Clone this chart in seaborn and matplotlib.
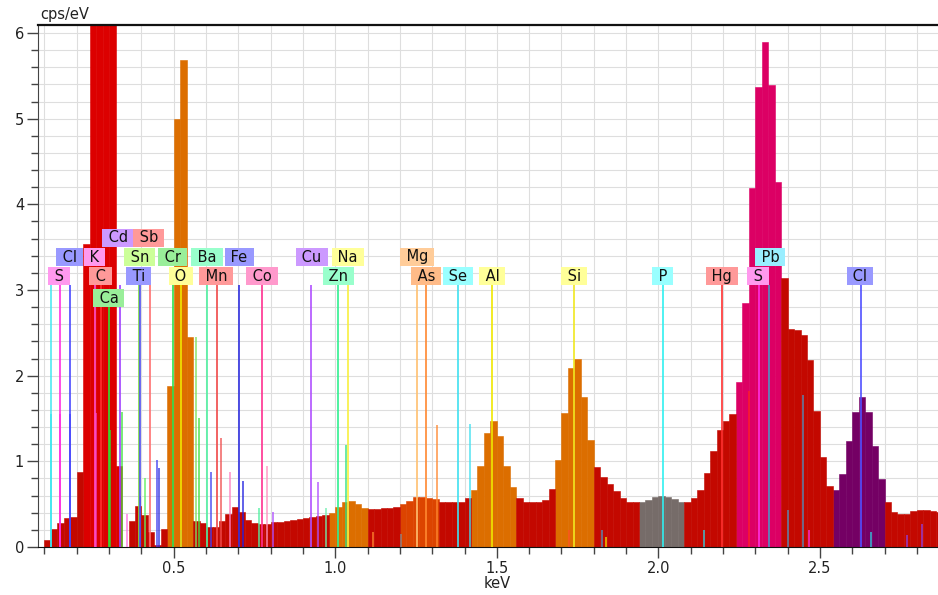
import numpy as np
import pandas as pd
import matplotlib
import matplotlib.pyplot as plt
import matplotlib.ticker as ticker
import seaborn as sns

matplotlib.use('Agg')

# EDS spectrum, 20 eV channels starting at 0.08 keV (cps/eV per channel)
bin_start = 0.08
bin_width = 0.02
cps = [0.00, 0.08, 0.21, 0.28, 0.34, 0.35, 0.88, 3.54, 6.50, 6.50,
       6.50, 6.50, 0.94, 0.00, 0.30, 0.48, 0.37, 0.17, 0.02, 0.21,
       1.88, 4.99, 5.69, 2.45, 0.30, 0.28, 0.23, 0.23, 0.30, 0.39,
       0.47, 0.41, 0.32, 0.28, 0.27, 0.27, 0.29, 0.29, 0.30, 0.31,
       0.33, 0.34, 0.35, 0.36, 0.37, 0.40, 0.47, 0.53, 0.54, 0.50,
       0.45, 0.44, 0.44, 0.45, 0.46, 0.47, 0.50, 0.54, 0.58, 0.58,
       0.57, 0.56, 0.53, 0.53, 0.53, 0.53, 0.57, 0.67, 0.94, 1.33,
       1.47, 1.30, 0.95, 0.70, 0.57, 0.52, 0.52, 0.52, 0.55, 0.68,
       1.01, 1.56, 2.09, 2.19, 1.75, 1.25, 0.93, 0.82, 0.74, 0.65,
       0.57, 0.52, 0.52, 0.52, 0.55, 0.58, 0.59, 0.58, 0.56, 0.53,
       0.53, 0.57, 0.67, 0.86, 1.12, 1.36, 1.47, 1.55, 1.93, 2.85,
       4.19, 5.37, 5.90, 5.39, 4.26, 3.14, 2.54, 2.53, 2.48, 2.18,
       1.59, 1.05, 0.71, 0.66, 0.85, 1.24, 1.57, 1.75, 1.57, 1.18,
       0.79, 0.52, 0.41, 0.39, 0.39, 0.42, 0.43, 0.43, 0.42, 0.41]

# Coloured peak regions (keV)
region_names = ['C', 'O', 'Na', 'Mg', 'Al', 'Si', 'P', 'SPb', 'Cl']
region_lo = [0.22, 0.48, 0.98, 1.20, 1.42, 1.68, 1.94, 2.24, 2.54]
region_hi = [0.34, 0.56, 1.10, 1.32, 1.56, 1.80, 2.08, 2.38, 2.70]
region_colors = ['#dc0000', '#dc6e00', '#dc6e00', '#dc4400', '#dc6e00',
                 '#dc6e00', '#766c69', '#dc0064', '#740064']
background_color = '#c30800'

# Identified element lines: name, energy (keV), label position, row, colours
el_names = ['S', 'Cl', 'K', 'C', 'Ca', 'Cd', 'Sn', 'Ti', 'Sb', 'Cr', 'O', 'Ba', 'Mn',
            'Fe', 'Co', 'Cu', 'Zn', 'Na', 'Mg', 'As', 'Se', 'Al', 'Si', 'P', 'Hg',
            'S', 'Pb', 'Cl']
el_kev = [0.147, 0.178, 0.256, 0.276, 0.299, 0.334, 0.393, 0.396, 0.426, 0.498,
          0.523, 0.602, 0.635, 0.703, 0.772, 0.925, 1.009, 1.040, 1.252, 1.281,
          1.379, 1.486, 1.739, 2.013, 2.197, 2.310, 2.343, 2.626]
el_label_kev = [0.145, 0.177, 0.255, 0.273, 0.299, 0.328, 0.395, 0.392, 0.423, 0.496,
                0.522, 0.603, 0.632, 0.703, 0.773, 0.927, 1.010, 1.038, 1.253, 1.281,
                1.380, 1.486, 1.739, 2.014, 2.197, 2.309, 2.346, 2.624]
el_row = [2, 1, 1, 2, 3, 0, 1, 2, 0, 1, 2, 1, 2, 1, 2, 1, 2, 1, 1, 2, 2, 2, 2, 2, 2,
          2, 1, 2]
el_line_colors = ['#ff30e0', '#4a4aff', '#ff50d0', '#ff3030', '#30e030', '#a040ff',
                  '#80e040', '#5050f0', '#ff7070', '#30e050', '#f0e800', '#50f0a0',
                  '#f04848', '#3030e0', '#ff3090', '#b050ff', '#30f090', '#f8f040',
                  '#ffc070', '#ff8830', '#40e0f0', '#f0e800', '#f0e820', '#30f0f0',
                  '#ff3030', '#ff30e0', '#5090c0', '#5050ff']
el_box_colors = ['#ff99ee', '#9999ff', '#ff99ee', '#ff9999', '#99ee99', '#cc99ff',
                 '#ccff99', '#9999ff', '#ff9999', '#99ee99', '#ffff99', '#99ffcc',
                 '#ff9999', '#9999ff', '#ff99cc', '#cc99ff', '#99ffcc', '#ffff99',
                 '#ffcc99', '#ffbb88', '#99ffff', '#ffff99', '#ffff99', '#99ffff',
                 '#ff9999', '#ff99ee', '#99eeff', '#9999ff']
line_top = 3.06
ca_line_top = 2.80
row_y = [3.61, 3.385, 3.163, 2.906]

# Extra unlabelled line (P L) at low energy
extra_kev = [0.119]
extra_color = ['#40e8f0']

# Minor element lines: energy, relative height, colour
minor_kev = [0.119, 0.149, 0.180, 0.258, 0.303, 0.339, 0.354, 0.396, 0.411, 0.449,
             0.455, 0.523, 0.568, 0.579, 0.614, 0.645, 0.674, 0.715, 0.763, 0.790,
             0.808, 0.947, 0.971, 1.033, 1.116, 1.203, 1.316, 1.417, 1.722, 1.825,
             1.838, 2.141, 2.281, 2.400, 2.448, 2.467, 2.657, 2.769, 2.815]
minor_h = [1.55, 1.55, 1.55, 1.56, 1.37, 1.57, 0.39, 0.60, 0.81, 1.02,
           0.92, 0.20, 2.45, 1.50, 0.87, 1.27, 0.87, 0.77, 0.45, 0.95,
           0.41, 0.76, 0.45, 1.19, 0.18, 0.15, 1.42, 1.43, 0.20, 0.20,
           0.12, 0.20, 1.82, 0.43, 1.77, 0.20, 0.17, 0.14, 0.27]
minor_colors = ['#20d8e8', '#f020d8', '#2020f0', '#f040c0', '#30e030', '#40e040',
                '#ff70e0', '#3030e0', '#60f060', '#4040f0', '#3030e0', '#4040f0',
                '#80e060', '#40e040', '#4040f0', '#f05050', '#ff80c0', '#2020e0',
                '#50f0a0', '#ff90c0', '#b050ff', '#b050ff', '#70f0b0', '#30e080',
                '#ff8830', '#888888', '#ff8830', '#40e0f0', '#ff5020', '#5090c0',
                '#f0e000', '#30d0e0', '#ff2020', '#5090c0', '#5090c0', '#ff30e0',
                '#30d0e0', '#9040e0', '#9040e0']

# Build the spectrum table
edges = np.round(bin_start + bin_width * np.arange(len(cps) + 1), 3)
centers = edges[:-1] + bin_width / 2
region = []
for c in centers:
    name = 'bg'
    for n, lo, hi in zip(region_names, region_lo, region_hi):
        if lo < c < hi:
            name = n
    region.append(name)
df = pd.DataFrame({'keV': centers, 'cps': cps, 'region': region})
palette = {'bg': background_color}
palette.update(dict(zip(region_names, region_colors)))

sns.set_style('white')
plt.rcParams['font.family'] = ['DejaVu Sans']

fig = plt.figure(figsize=(9.38, 5.95), dpi=100)
ax = fig.add_axes([38 / 938, 48 / 595, 900 / 938, 522 / 595])

sns.histplot(data=df, x='keV', weights='cps', hue='region', bins=edges.tolist(),
             palette=palette, alpha=1, legend=False, ax=ax, linewidth=0.4,
             element='bars', multiple='layer')
for p in ax.patches:
    p.set_edgecolor(p.get_facecolor())
    p.set_zorder(2)

# minor lines
ax.vlines(minor_kev, 0, minor_h, colors=minor_colors, lw=1.1, zorder=3, alpha=0.9)
ax.vlines(extra_kev, 0, line_top, colors=extra_color, lw=1.1, zorder=3)

# main labelled lines
for name, e, le, row, lc, bc in zip(el_names, el_kev, el_label_kev, el_row,
                                    el_line_colors, el_box_colors):
    top = ca_line_top if row == 3 else line_top
    ax.vlines(e, 0, top, colors=lc, lw=1.2, zorder=3)
    ax.text(le, row_y[row], ' ' + name + ' ', ha='center', va='center',
            fontsize=10.5, color='#111111', zorder=6,
            bbox=dict(boxstyle='square,pad=0.1', fc=bc, ec='none'))

ax.set_xlim(0.0799, 2.8654)
ax.set_ylim(0, 6.093)
ax.xaxis.set_major_locator(ticker.MultipleLocator(0.5))
ax.xaxis.set_minor_locator(ticker.MultipleLocator(0.1))
ax.xaxis.set_major_formatter(ticker.FormatStrFormatter('%.1f'))
ax.yaxis.set_major_locator(ticker.MultipleLocator(1))
ax.yaxis.set_minor_locator(ticker.MultipleLocator(0.2))
ax.tick_params(which='major', direction='out', length=8, width=1, color='#444444',
               labelsize=10.5, labelcolor='#222222', pad=2)
ax.tick_params(which='minor', direction='out', length=5, width=1, color='#444444')
ax.tick_params(axis='x', which='both', bottom=True)
ax.tick_params(axis='y', which='both', left=True)
ax.grid(which='both', color='#dedede', lw=0.8)
ax.set_axisbelow(True)
ax.set_xlabel('')
ax.set_ylabel('')

ax.spines['right'].set_visible(False)
ax.spines['top'].set_color('#111111')
ax.spines['top'].set_linewidth(1.6)
ax.spines['left'].set_color('#444444')
ax.spines['bottom'].set_color('#111111')

fig.text(40 / 938, 1 - 14 / 595, 'cps/eV', ha='left', va='center', fontsize=10.5,
         color='#222222')
fig.text(497 / 938, 1 - 584 / 595, 'keV', ha='center', va='center', fontsize=10.5,
         color='#222222')

plt.savefig('out.png', dpi=100)
